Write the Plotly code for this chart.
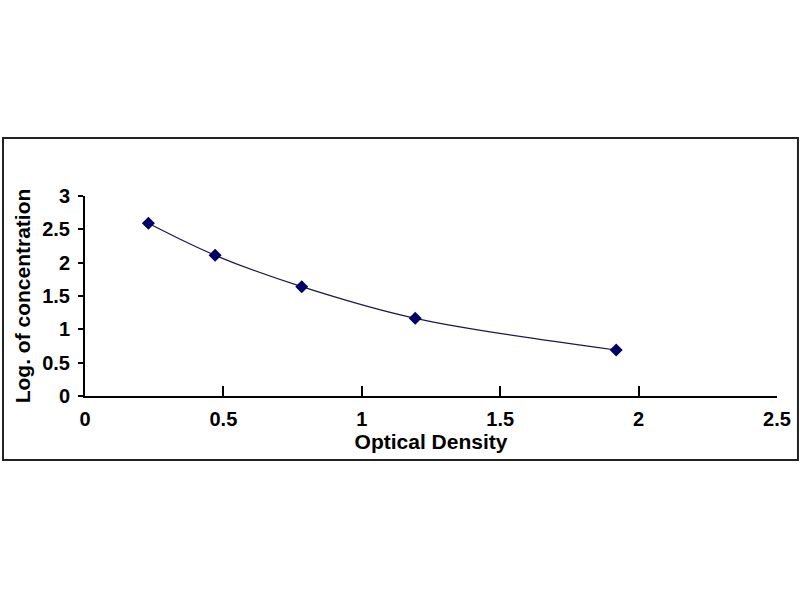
import plotly.graph_objects as go

# standard curve points
optical_density = [0.229, 0.470, 0.783, 1.193, 1.919]
log_conc = [2.59, 2.11, 1.64, 1.165, 0.69]

x_ticks = [0, 0.5, 1, 1.5, 2, 2.5]
y_ticks = [0, 0.5, 1, 1.5, 2, 2.5, 3]

navy = '#000066'
font_family = 'Liberation Sans, Arial, sans-serif'

fig = go.Figure()
fig.add_trace(
    go.Scatter(
        x=optical_density,
        y=log_conc,
        mode='lines+markers',
        line=dict(shape='spline', smoothing=1.0, color='#1a1a4a', width=1.2),
        marker=dict(symbol='diamond', size=10, color=navy),
        showlegend=False,
        cliponaxis=False,
    )
)

fig.update_layout(
    width=800,
    height=600,
    paper_bgcolor='white',
    plot_bgcolor='white',
    margin=dict(l=85, r=23, t=196, b=204, autoexpand=False),
    font=dict(family=font_family, color='black'),
    shapes=[
        # outer chart frame
        dict(type='rect', xref='paper', yref='paper',
             x0=-0.1185, x1=1.0303, y0=-0.32, y1=1.29,
             line=dict(color='#222222', width=2)),
    ],
)

fig.update_xaxes(
    range=[0, 2.5],
    tickvals=x_ticks,
    ticktext=[f'{v:g}' for v in x_ticks],
    ticks='inside',
    ticklen=10,
    tickwidth=2,
    tickcolor='black',
    showline=True,
    linecolor='black',
    linewidth=2,
    showgrid=False,
    zeroline=False,
    ticklabelstandoff=4,
    tickfont=dict(size=20, family=font_family, weight='bold'),
    title=dict(text='<b>Optical Density</b>', font=dict(size=21), standoff=0),
)

fig.update_yaxes(
    range=[0, 3],
    tickvals=y_ticks,
    ticktext=[f'{v:g}' for v in y_ticks],
    ticks='outside',
    ticklen=5,
    tickwidth=2,
    tickcolor='black',
    showline=True,
    linecolor='black',
    linewidth=2,
    showgrid=False,
    zeroline=False,
    ticklabelstandoff=4,
    tickfont=dict(size=20, family=font_family, weight='bold'),
    title=dict(text='<b>Log. of concentration</b>', font=dict(size=21), standoff=6),
)

# drop the browser's default 8px body margin so the figure sits at the corner
fig.write_html('out.html', config={'displayModeBar': False},
               post_script="document.body.style.margin = '0';")
